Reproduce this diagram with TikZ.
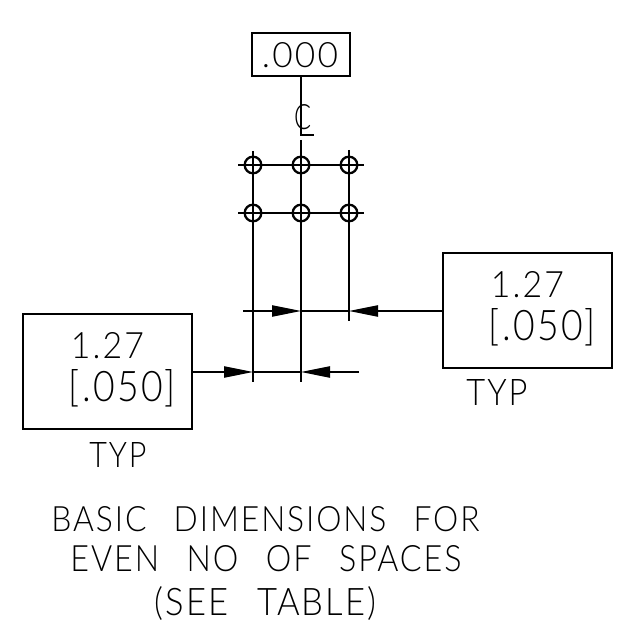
\documentclass[tikz,border=0pt]{standalone}
\usepackage{fontspec}
\usepackage{graphicx}
\setmainfont{Lato Light}[LetterSpace=6]
\usetikzlibrary{arrows.meta}
\definecolor{ink}{HTML}{000000}
\definecolor{txt}{HTML}{000000}
\newdimen\pxunit \pxunit=0.75pt
\newcommand{\fitbox}[3]{\resizebox{#1\pxunit}{#2\pxunit}{#3}}
\tikzset{
  lbl/.style={inner sep=0pt,outer sep=0pt,anchor=base,text=txt},
  frame/.style={draw=ink,line width=1pt,inner sep=0pt,outer sep=0pt,rectangle},
  thin line/.style={draw=ink,line width=0.9pt},
  dimline/.style={draw=ink,line width=0.9pt},
  tipline/.style={dimline,-{Triangle[length=21.75pt,width=8.5pt]}},
  hole/.style={circle,draw=ink,line width=1.7pt,minimum size=12.5pt,inner sep=0pt,outer sep=0pt}
}
\begin{document}
\begin{tikzpicture}[x=0.75pt,y=-0.75pt]
\useasboundingbox (0,0) rectangle (637,630);
\fill[white] (0,0) rectangle (637,630);
% boxes
\node[frame,minimum width=73.5pt,minimum height=32.25pt] (datum) at (301,54.5) {};
\node[frame,minimum width=126.75pt,minimum height=86.25pt] (lbox) at (107.5,371.5) {};
\node[frame,minimum width=126.75pt,minimum height=86.25pt] (rbox) at (527.5,310.5) {};
% hole grid
\foreach \n/\x/\y in {a/253/165,b/301/165,c/349/165,d/253/213,e/301/213,f/349/213}
  \node[hole] (h\n) at (\x,\y) {};
\coordinate (hl1) at (238,165); \coordinate (hr1) at (364,165);
\coordinate (hl2) at (238,213); \coordinate (hr2) at (364,213);
\draw[thin line] (hl1) -- (hr1);
\draw[thin line] (hl2) -- (hr2);
\coordinate (v1t) at (253,151); \coordinate (v1b) at (253,382);
\coordinate (v2t) at (301,140); \coordinate (v2b) at (301,382);
\coordinate (v3t) at (349,150); \coordinate (v3b) at (349,321);
\draw[thin line] (v1t) -- (v1b);
\draw[thin line] (v2t) -- (v2b);
\draw[thin line] (v3t) -- (v3b);
% centre line symbol
\coordinate (clb) at (301,135); \coordinate (clf) at (314,135);
\draw[thin line] (datum.south) -- (clb) -- (clf);
\node[lbl] (clc) at (302.5,130) {\fitbox{17}{25}{C}};
% upper dimension
\coordinate (u0) at (243,311); \coordinate (u1) at (301,311); \coordinate (u2) at (349,311);
\draw[tipline] (u0) -- (u1);
\draw[dimline] (u1) -- (u2);
\draw[tipline] (rbox.west |- u2) -- (u2);
% lower dimension
\coordinate (w1) at (253,372); \coordinate (w2) at (301,372); \coordinate (w3) at (359,372);
\draw[tipline] (lbox.east |- w1) -- (w1);
\draw[dimline] (w1) -- (w2);
\draw[tipline] (w3) -- (w2);
% texts
\node[lbl] (t0) at (300,68) {\fitbox{76}{25}{.000}};
\node[lbl] (l1) at (107.5,359) {\fitbox{73}{26}{1.27}};
\node[lbl] (l2) at (122.5,402) {\fitbox{107}{32}{[.050]}};
\node[lbl] (l3) at (118,468) {\fitbox{57}{25}{TYP}};
\node[lbl] (r1) at (527.5,298) {\fitbox{73}{26}{1.27}};
\node[lbl] (r2) at (542.5,341) {\fitbox{107}{32}{[.050]}};
\node[lbl] (r3) at (497,406) {\fitbox{61}{26}{TYP}};
\node[lbl] (b1) at (265.5,532) {\fitbox{428}{25}{BASIC\hspace{0.85em}DIMENSIONS\hspace{0.85em}FOR}};
\node[lbl] (b2) at (266,571.5) {\fitbox{391}{26}{EVEN\hspace{0.85em}NO\hspace{0.85em}OF\hspace{0.85em}SPACES}};
\node[lbl] (b3) at (265.5,616) {\fitbox{222}{29}{(SEE\hspace{0.85em}TABLE)}};
\end{tikzpicture}
\end{document}
